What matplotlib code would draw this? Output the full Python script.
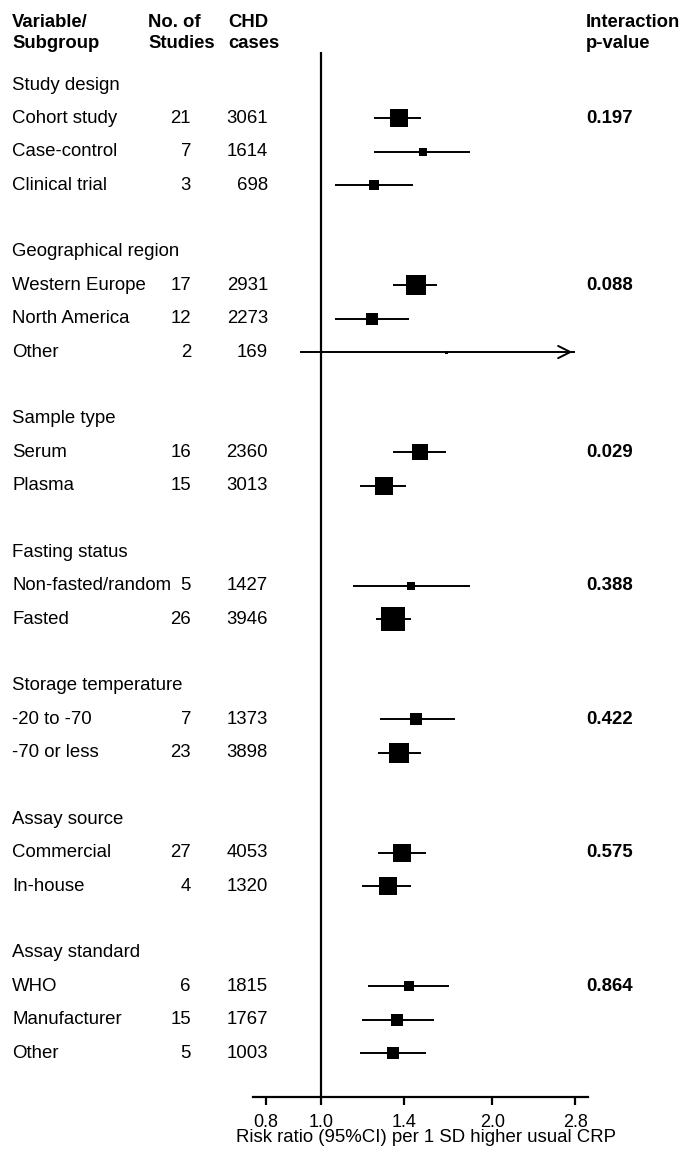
import numpy as np
import matplotlib.pyplot as plt
import matplotlib.transforms as mtransforms

plt.rcParams['font.family'] = ['Liberation Sans', 'DejaVu Sans']

# ======================
# Data
# ======================
group_names = ["Study design", "Geographical region", "Sample type",
               "Fasting status", "Storage temperature", "Assay source",
               "Assay standard"]
group_sizes = [3, 3, 2, 2, 2, 2, 3]
p_interaction = ["0.197", "0.088", "0.029", "0.388", "0.422", "0.575", "0.864"]

subgroups = ["Cohort study", "Case-control", "Clinical trial",
             "Western Europe", "North America", "Other",
             "Serum", "Plasma",
             "Non-fasted/random", "Fasted",
             "-20 to -70", "-70 or less",
             "Commercial", "In-house",
             "WHO", "Manufacturer", "Other"]
n_studies = [21, 7, 3, 17, 12, 2, 16, 15, 5, 26, 7, 23, 27, 4, 6, 15, 5]
chd_cases = [3061, 1614, 698, 2931, 2273, 169, 2360, 3013, 1427, 3946,
             1373, 3898, 4053, 1320, 1815, 1767, 1003]
rr = [1.37, 1.51, 1.24, 1.47, 1.23, 1.66, 1.49, 1.29, 1.44, 1.34,
      1.47, 1.37, 1.39, 1.31, 1.43, 1.36, 1.34]
ci_lo = [1.24, 1.24, 1.06, 1.34, 1.06, 0.92, 1.34, 1.17, 1.14, 1.25,
         1.27, 1.26, 1.26, 1.18, 1.21, 1.18, 1.17]
ci_hi = [1.50, 1.83, 1.45, 1.60, 1.43, 3.20, 1.66, 1.41, 1.83, 1.44,
         1.72, 1.50, 1.53, 1.44, 1.68, 1.58, 1.53]

xticks = [0.8, 1.0, 1.4, 2.0, 2.8]

# ======================
# Layout
# ======================
W, H = 682, 1149
fig = plt.figure(figsize=(W / 100, H / 100), dpi=100)

row0, row_h = 85, 33.38          # pixel y of first row and row spacing
ax_top, ax_bot = 52, 1097
ax_left, ax_right = 253, 588
ax = fig.add_axes([ax_left / W, 1 - ax_bot / H,
                   (ax_right - ax_left) / W, (ax_bot - ax_top) / H])
ax.set_xscale('log')
ax.set_xlim(0.759, 2.948)
ax.set_ylim((ax_bot - row0) / row_h, (ax_top - row0) / row_h)

for s in ['top', 'right', 'left']:
    ax.spines[s].set_visible(False)
ax.spines['bottom'].set_linewidth(1.6)
ax.set_yticks([])
ax.set_xticks(xticks)
ax.set_xticklabels([f"{t:.1f}" for t in xticks])
ax.xaxis.set_minor_locator(plt.NullLocator())
ax.tick_params(axis='x', direction='out', length=6, width=1.6,
               labelsize=13, pad=6)
ax.axvline(1.0, color='black', lw=1.6)

fig.text(426 / W, 1 - 1138 / H,
         "Risk ratio (95%CI) per 1 SD higher usual CRP",
         ha='center', va='center', fontsize=13.4)

# text transform: x in figure pixels fraction, y in row units
tr = mtransforms.blended_transform_factory(fig.transFigure, ax.transData)
fs = 13.4


def px(x):
    return x / W


# headers
hdr1 = (22 - row0) / row_h
hdr2 = (43 - row0) / row_h
for x, l1, l2 in [(12, "Variable/", "Subgroup"), (148, "No. of", "Studies"),
                  (228, "CHD", "cases"), (586, "Interaction", "p-value")]:
    fig.text(px(x), hdr1, l1, transform=tr, ha='left', va='center',
             fontsize=13.3, fontweight='bold')
    fig.text(px(x), hdr2, l2, transform=tr, ha='left', va='center',
             fontsize=13.3, fontweight='bold')

# rows
k_box = 3.4   # box side (px) = k / log CI width, i.e. inverse-variance
row = 0
idx = 0
for g, name in enumerate(group_names):
    fig.text(px(12), row, name, transform=tr, ha='left', va='center',
             fontsize=fs)
    for j in range(group_sizes[g]):
        y = row + 1 + j
        fig.text(px(12), y, subgroups[idx], transform=tr, ha='left',
                 va='center', fontsize=fs)
        fig.text(px(191), y, str(n_studies[idx]), transform=tr, ha='right',
                 va='center', fontsize=fs)
        fig.text(px(268), y, str(chd_cases[idx]), transform=tr, ha='right',
                 va='center', fontsize=fs)
        if j == 0:
            fig.text(px(586), y, p_interaction[g], transform=tr, ha='left',
                     va='center', fontsize=fs, fontweight='bold')

        lo, hi, est = ci_lo[idx], ci_hi[idx], rr[idx]
        if hi > xticks[-1]:
            ax.plot([lo, xticks[-1]], [y, y], color='black', lw=1.4,
                    solid_capstyle='butt')
            ax.annotate("", xy=(xticks[-1], y), xytext=(xticks[-1] * 0.97, y),
                        arrowprops=dict(arrowstyle='->', color='black',
                                        lw=1.4, mutation_scale=22))
        else:
            ax.plot([lo, hi], [y, y], color='black', lw=1.4,
                    solid_capstyle='butt')
        side = max(k_box / np.log(hi / lo), 3)
        ax.plot(est, y, marker='s', color='black', markersize=side * 0.72,
                markeredgewidth=0)
        idx += 1
    row += group_sizes[g] + 2

fig.savefig("out.png", dpi=100)
